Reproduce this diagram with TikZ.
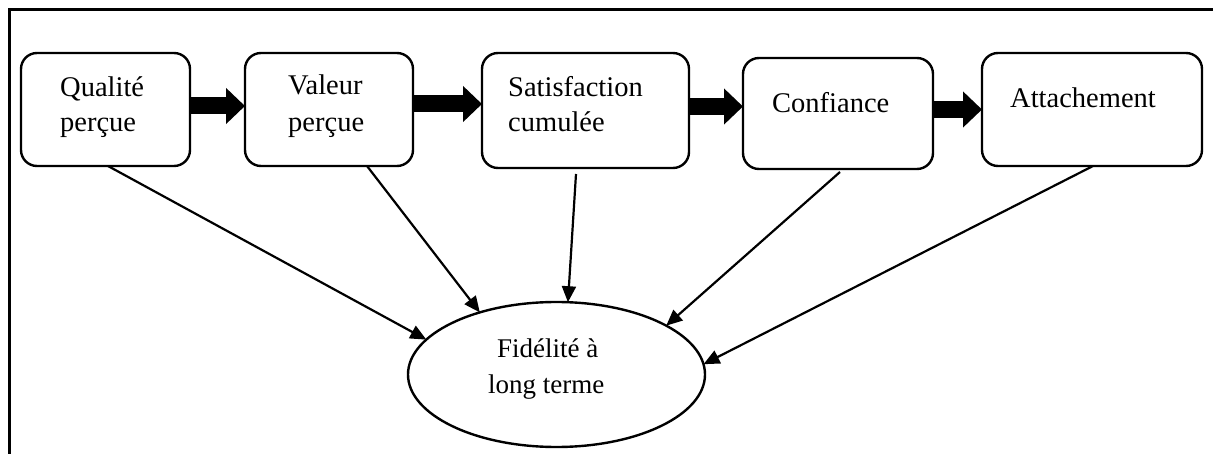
\documentclass[tikz,border=0pt]{standalone}
\usepackage{fontspec}
\setmainfont{Liberation Serif}
\usetikzlibrary{arrows.meta,shapes.geometric}
\begin{document}
\begin{tikzpicture}[x=1pt,y=-1pt,
  box/.style={draw,line width=2.4pt,rounded corners=16pt,inner sep=0pt,outer sep=0pt},
  oval/.style={draw,ellipse,line width=2.4pt,inner sep=0pt,outer sep=0pt,minimum width=297pt,minimum height=145pt},
  lbl/.style={anchor=base west,inner sep=0pt,font=\fontsize{28.5}{36}\selectfont},
  elbl/.style={anchor=base west,inner sep=0pt,font=\fontsize{27}{34}\selectfont},
  bigarrow/.style={line width=17pt,-{Triangle[length=19pt,width=35pt]}},
  thinarrow/.style={line width=2.2pt,-{Triangle[length=16pt,width=14pt]}},
  frame/.style={line width=2.4pt}]
\useasboundingbox (0,0) rectangle (1213,454);
\draw[frame] (1213,9.5) -- (9.5,9.5) -- (9.5,454);
% boxes
\node[box,minimum width=169pt,minimum height=113pt] (b1) at (105.5,109.5) {};
\node[box,minimum width=168pt,minimum height=113pt] (b2) at (329,109.5) {};
\node[box,minimum width=207pt,minimum height=115pt] (b3) at (585.5,110.5) {};
\node[box,minimum width=190pt,minimum height=111pt] (b4) at (838,113.5) {};
\node[box,minimum width=220pt,minimum height=113pt] (b5) at (1092,109.5) {};
\node[oval] (el) at (556.5,374.5) {};
% texts
\node[lbl] (t1a) at (60,97) {Qualité};
\node[lbl] (t1b) at (60,132) {perçue};
\node[lbl] (t2a) at (288,95) {Valeur};
\node[lbl] (t2b) at (288,132) {perçue};
\node[lbl] (t3a) at (508,97) {Satisfaction};
\node[lbl] (t3b) at (508,132) {cumulée};
\node[lbl] (t4) at (772,113) {Confiance};
\node[lbl] (t5) at (1010,108) {Attachement};
\node[elbl] (tea) at (497,358) {Fidélité à};
\node[elbl] (teb) at (488,393) {long terme};
% thick arrows
\draw[bigarrow] (b1.east |- 0,106) -- (b2.west |- 0,106);
\draw[bigarrow] (b2.east |- 0,104) -- (b3.west |- 0,104);
\draw[bigarrow] (b3.east |- 0,106.5) -- (b4.west |- 0,106.5);
\draw[bigarrow] (b4.east |- 0,109.5) -- (b5.west |- 0,109.5);
% thin arrows
\draw[thinarrow] (b1.south -| 108,0) -- (el.165.1);
\draw[thinarrow] (b2.south -| 367,0) -- (el.141.5);
\draw[thinarrow] ([yshift=-6pt]b3.south -| 576,0) -- (el.81);
\draw[thinarrow] ([yshift=-3pt]b4.south -| 840,0) -- (el.24.2);
\draw[thinarrow] (b5.south -| 1093,0) -- (el.4.4);
\end{tikzpicture}
\end{document}
